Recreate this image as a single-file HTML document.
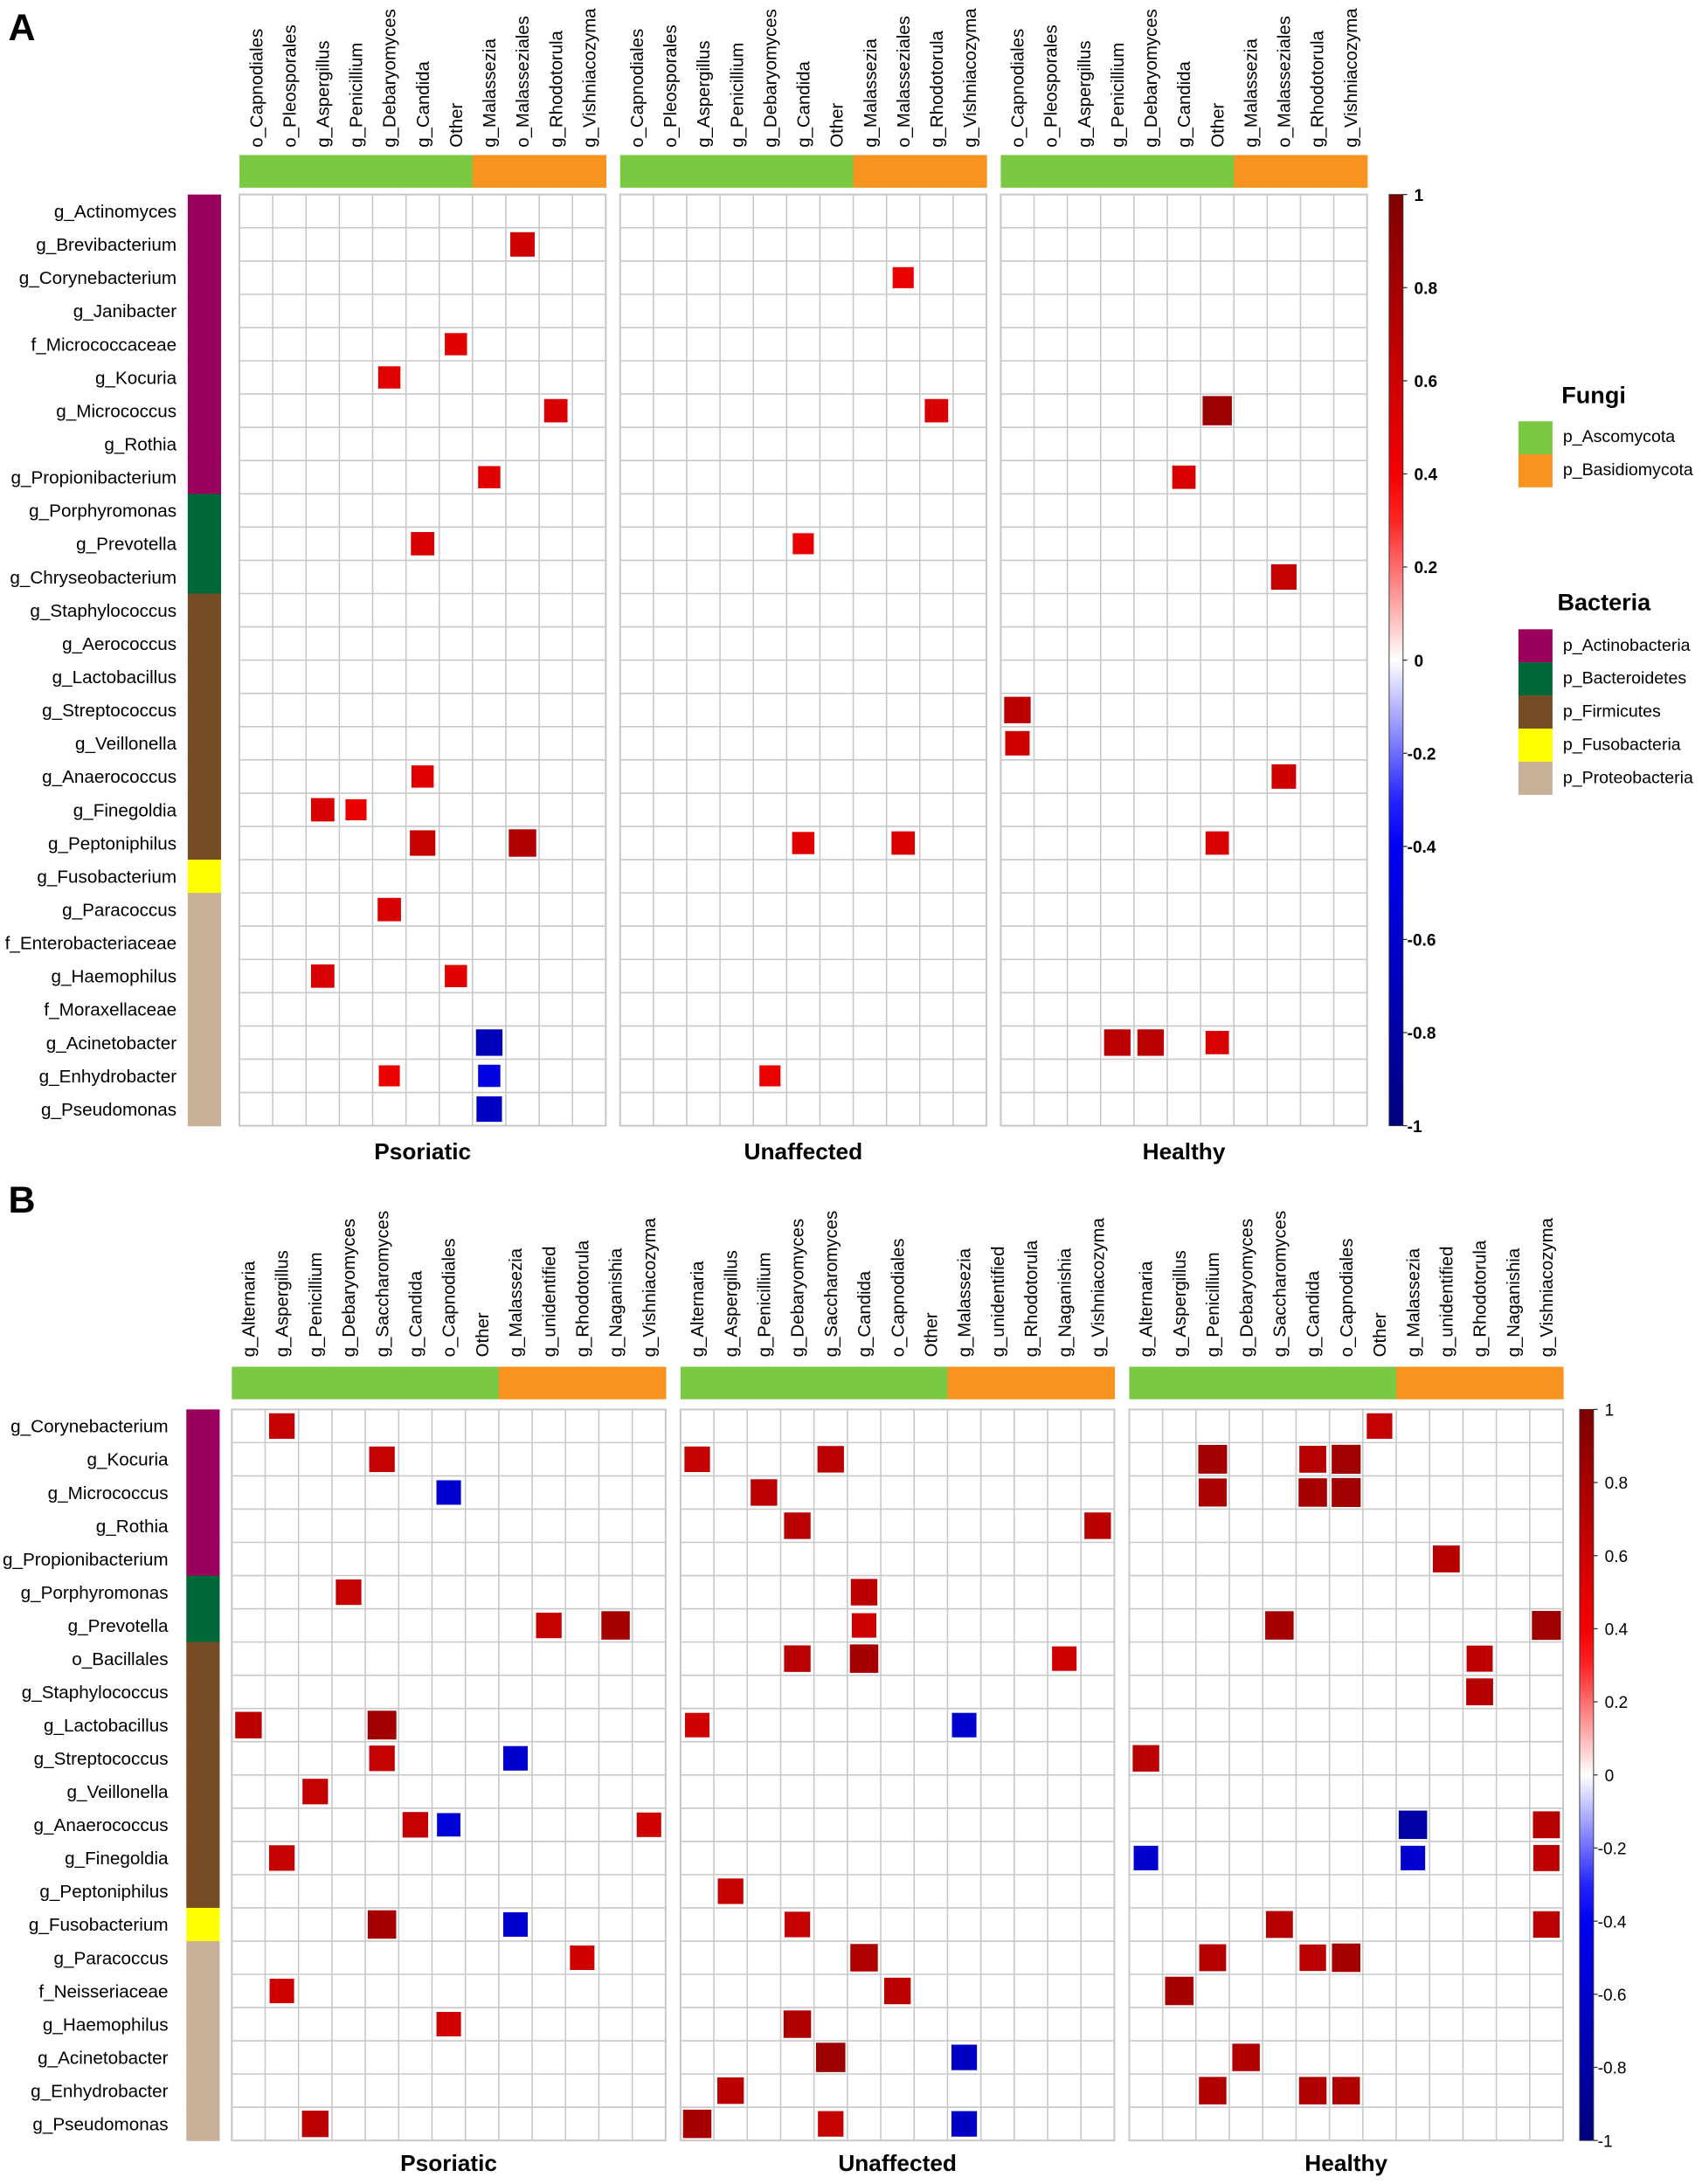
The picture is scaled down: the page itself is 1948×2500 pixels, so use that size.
<!DOCTYPE html>
<html><head><meta charset="utf-8"><style>
html,body{margin:0;padding:0;background:#fff}
svg{display:block}
text{font-family:"Liberation Sans",Arial,sans-serif}
</style></head><body>
<svg id="fig" xmlns="http://www.w3.org/2000/svg" width="1948" height="2500" viewBox="0 0 1224 1570.8" preserveAspectRatio="none">
<rect width="1224" height="1571" fill="#fff"/>
<text x="6" y="29" font-size="27" font-weight="bold">A</text>
<text x="6" y="872" font-size="27" font-weight="bold">B</text>
<g id="legend">
<text x="1123" y="290" font-size="17" font-weight="bold">Fungi</text>
<text x="1120" y="439" font-size="17" font-weight="bold">Bacteria</text>
</g>
</svg>
<script>
// ---------- data ----------
var rowsA = ["g_Actinomyces","g_Brevibacterium","g_Corynebacterium","g_Janibacter","f_Micrococcaceae","g_Kocuria","g_Micrococcus","g_Rothia","g_Propionibacterium","g_Porphyromonas","g_Prevotella","g_Chryseobacterium","g_Staphylococcus","g_Aerococcus","g_Lactobacillus","g_Streptococcus","g_Veillonella","g_Anaerococcus","g_Finegoldia","g_Peptoniphilus","g_Fusobacterium","g_Paracoccus","f_Enterobacteriaceae","g_Haemophilus","f_Moraxellaceae","g_Acinetobacter","g_Enhydrobacter","g_Pseudomonas"];
var rowPhylaA = [0,0,0,0,0,0,0,0,0,1,1,1,2,2,2,2,2,2,2,2,3,4,4,4,4,4,4,4];
var colsA = ["o_Capnodiales","o_Pleosporales","g_Aspergillus","g_Penicillium","g_Debaryomyces","g_Candida","Other","g_Malassezia","o_Malasseziales","g_Rhodotorula","g_Vishniacozyma"];
var colPhylaA = [0,0,0,0,0,0,0,1,1,1,1];
// cells: [row, col, r]
var psoriaticA = [[1,8,0.6],[4,6,0.5],[5,4,0.5],[6,9,0.55],[8,7,0.5],[10,5,0.55],[17,5,0.5],[18,2,0.55],[18,3,0.45],[19,5,0.65],[19,8,0.75],[21,4,0.55],[23,2,0.55],[23,6,0.5],[25,7,-0.7],[26,4,0.45],[26,7,-0.5],[27,7,-0.65]];
var unaffectedA = [[2,8,0.45],[6,9,0.55],[10,5,0.45],[19,5,0.5],[19,8,0.55],[26,4,0.45]];
var healthyA = [[6,6,0.85],[8,5,0.55],[11,8,0.65],[15,0,0.7],[16,0,0.6],[17,8,0.6],[19,6,0.55],[25,3,0.7],[25,4,0.7],[25,6,0.55]];

var rowsB = ["g_Corynebacterium","g_Kocuria","g_Micrococcus","g_Rothia","g_Propionibacterium","g_Porphyromonas","g_Prevotella","o_Bacillales","g_Staphylococcus","g_Lactobacillus","g_Streptococcus","g_Veillonella","g_Anaerococcus","g_Finegoldia","g_Peptoniphilus","g_Fusobacterium","g_Paracoccus","f_Neisseriaceae","g_Haemophilus","g_Acinetobacter","g_Enhydrobacter","g_Pseudomonas"];
var rowPhylaB = [0,0,0,0,0,1,1,2,2,2,2,2,2,2,2,3,4,4,4,4,4,4];
var colsB = ["g_Alternaria","g_Aspergillus","g_Penicillium","g_Debaryomyces","g_Saccharomyces","g_Candida","o_Capnodiales","Other","g_Malassezia","g_unidentified","g_Rhodotorula","g_Naganishia","g_Vishniacozyma"];
var colPhylaB = [0,0,0,0,0,0,0,0,1,1,1,1,1];
var psoriaticB = [[0,1,0.65],[1,4,0.65],[2,6,-0.6],[5,3,0.65],[6,9,0.65],[6,11,0.8],[9,0,0.7],[9,4,0.82],[10,4,0.65],[10,8,-0.6],[11,2,0.65],[12,5,0.65],[12,6,-0.55],[12,12,0.6],[13,1,0.65],[15,4,0.8],[15,8,-0.6],[16,10,0.6],[17,1,0.6],[18,6,0.6],[21,2,0.7]];
var unaffectedB = [[1,0,0.65],[1,4,0.7],[2,2,0.7],[3,3,0.7],[3,12,0.7],[5,5,0.7],[6,5,0.6],[7,3,0.7],[7,5,0.8],[7,11,0.6],[9,0,0.6],[9,8,-0.6],[14,1,0.65],[15,3,0.65],[16,5,0.75],[17,6,0.7],[18,3,0.75],[19,4,0.85],[19,8,-0.65],[20,1,0.7],[21,0,0.8],[21,4,0.65],[21,8,-0.65]];
var healthyB = [[0,7,0.65],[1,2,0.82],[1,5,0.72],[1,6,0.83],[2,2,0.78],[2,5,0.8],[2,6,0.83],[4,9,0.72],[6,4,0.8],[6,12,0.83],[7,10,0.68],[8,10,0.72],[10,0,0.7],[12,8,-0.8],[12,12,0.72],[13,0,-0.6],[13,8,-0.6],[13,12,0.68],[15,4,0.72],[15,12,0.7],[16,2,0.72],[16,5,0.7],[16,6,0.8],[17,1,0.8],[19,3,0.75],[20,2,0.75],[20,5,0.75],[20,6,0.75]];

var groupNames = ["Psoriatic","Unaffected","Healthy"];
var cbTicks = [1,0.8,0.6,0.4,0.2,0,-0.2,-0.4,-0.6,-0.8,-1];
var fungiPhyla = ["p_Ascomycota","p_Basidiomycota"];
var bactPhyla = ["p_Actinobacteria","p_Bacteroidetes","p_Firmicutes","p_Fusobacteria","p_Proteobacteria"];

// ---------- styles ----------
var fungiColors = ["#7ac943","#f7931e"];
var bactColors = ["#9c005d","#006838","#754c24","#ffff00","#c7b299"];
var NS = "http://www.w3.org/2000/svg";
var svg = document.getElementById("fig");
function mk(tag, attrs, parent){
  var e = document.createElementNS(NS, tag);
  for (var k in attrs) e.setAttribute(k, attrs[k]);
  (parent||svg).appendChild(e); return e;
}
function lerp(a,b,t){return Math.round(a+(b-a)*t);}
function colorOf(v){
  var stops=[[-1,[0,0,127]],[-0.35,[0,0,255]],[0,[255,255,255]],[0.35,[255,0,0]],[1,[127,0,0]]];
  for(var i=0;i<stops.length-1;i++){
    if(v<=stops[i+1][0]){var t=(v-stops[i][0])/(stops[i+1][0]-stops[i][0]);
      var a=stops[i][1],b=stops[i+1][1];
      return "rgb("+lerp(a[0],b[0],t)+","+lerp(a[1],b[1],t)+","+lerp(a[2],b[2],t)+")";}
  }
  return "rgb(127,0,0)";
}

function panel(cfg){
  var cw=cfg.cw, rh=cfg.rh, nC=cfg.cols.length, nR=cfg.rows.length;
  var gridW=nC*cw, H=nR*rh;
  var g=mk("g",{});  
  cfg.rows.forEach(function(r,i){
    var t=mk("text",{x:cfg.labelX,y:cfg.top+i*rh+rh/2+4.6,"font-size":13,"text-anchor":"end"},g);
    
    
    t.textContent=r;
    var s=mk("rect",{x:cfg.sideX,y:cfg.top+i*rh,width:24,height:rh+0.4,fill:bactColors[cfg.rowPhyla[i]]});
    
    
  });
  cfg.groups.forEach(function(cells,gi){
    var x0=cfg.left+gi*(gridW+cfg.gap);
    var gg=mk("g",{});  
    cfg.cols.forEach(function(c,j){
      var cx=x0+j*cw+cw/2+4.5;
      var t=mk("text",{x:cx,y:cfg.labTop,"font-size":12.8,transform:"rotate(-90 "+cx+" "+cfg.labTop+")"},gg);
      
      
      t.textContent=c;
      var b=mk("rect",{x:x0+j*cw,y:cfg.barTop,width:cw+0.4,height:cfg.barH,fill:fungiColors[cfg.colPhyla[j]]},gg);
      
      
    });
    var bg=mk("rect",{x:x0,y:cfg.top,width:gridW,height:H,fill:"#fff",stroke:"#c8c8c8","stroke-width":1.3},gg);
    
    
    for(var j=1;j<nC;j++){var l=mk("line",{x1:x0+j*cw,x2:x0+j*cw,y1:cfg.top,y2:cfg.top+H,stroke:"#c8c8c8","stroke-width":1},gg);}
    for(var i=1;i<nR;i++){var l2=mk("line",{x1:x0,x2:x0+gridW,y1:cfg.top+i*rh,y2:cfg.top+i*rh,stroke:"#c8c8c8","stroke-width":1},gg);}
    cells.forEach(function(c){
      var s=Math.sqrt(Math.abs(c[2]))*cw*0.98;
      var cx=x0+c[1]*cw+cw/2, cy=cfg.top+c[0]*rh+rh/2;
      var r=mk("rect",{x:cx-s/2,y:cy-s/2,width:s,height:s,fill:colorOf(c[2]),stroke:"#fff","stroke-width":0.6},gg);
      
      
    });
    var tt=mk("text",{x:x0+gridW/2,y:cfg.top+H+cfg.titleDy,"font-size":16.5,"font-weight":"bold","text-anchor":"middle"},gg);
    
    
    tt.textContent=groupNames[gi];
  });
  var cb=mk("g",{});  
  var id="grad"+cfg.id;
  var defs=mk("defs",{},cb); var lg=mk("linearGradient",{id:id,x1:0,y1:0,x2:0,y2:1},defs);
  for(var k=0;k<=20;k++){var v=1-k*0.1; mk("stop",{offset:(k/20),"stop-color":colorOf(v)},lg);}
  var bar=mk("rect",{x:cfg.cbX,y:cfg.top,width:10,height:H,fill:"url(#"+id+")",stroke:"#333","stroke-width":0.6},cb);
  
  
  cbTicks.forEach(function(v){
    var y=cfg.top+(1-v)/2*H;
    mk("line",{x1:cfg.cbX+10,x2:cfg.cbX+13,y1:y,y2:y,stroke:"#333","stroke-width":0.8},cb);
    var lab=mk("text",{x:cfg.cbX+(v>=0?18:13),y:y+4.5,"font-size":12,"font-weight":cfg.cbBold?"bold":"normal"},cb);
    
    
    lab.textContent=(v===0?"0":String(v));
  });
}

panel({id:"panel-a",rows:rowsA,rowPhyla:rowPhylaA,cols:colsA,colPhyla:colPhylaA,groups:[psoriaticA,unaffectedA,healthyA],
  left:172.2,top:139.9,cw:23.95,rh:23.92,gap:10.3,labelX:127,sideX:135,labTop:106,barTop:111.5,barH:23.5,cbX:999,cbBold:true,titleDy:24});
panel({id:"panel-b",rows:rowsB,rowPhyla:rowPhylaB,cols:colsB,colPhyla:colPhylaB,groups:[psoriaticB,unaffectedB,healthyB],
  left:166.7,top:1013.7,cw:24.0,rh:23.9,gap:10.7,labelX:121,sideX:134,labTop:976,barTop:983,barH:23.4,cbX:1136,cbBold:false,titleDy:22});

var leg=document.getElementById("legend");
fungiPhyla.forEach(function(p,i){
  var r=mk("rect",{x:1092,y:303+i*23.7,width:24.5,height:23.8,fill:fungiColors[i]},leg);
  
  
  var t=mk("text",{x:1124,y:318+i*23.7,"font-size":12.3},leg);
  
  
  t.textContent=p;
});
bactPhyla.forEach(function(p,i){
  var r=mk("rect",{x:1092,y:452.6+i*23.8,width:24.5,height:23.9,fill:bactColors[i]},leg);
  
  
  var t=mk("text",{x:1124,y:468+i*23.8,"font-size":12.3},leg);
  
  
  t.textContent=p;
});
</script>
</body></html>
